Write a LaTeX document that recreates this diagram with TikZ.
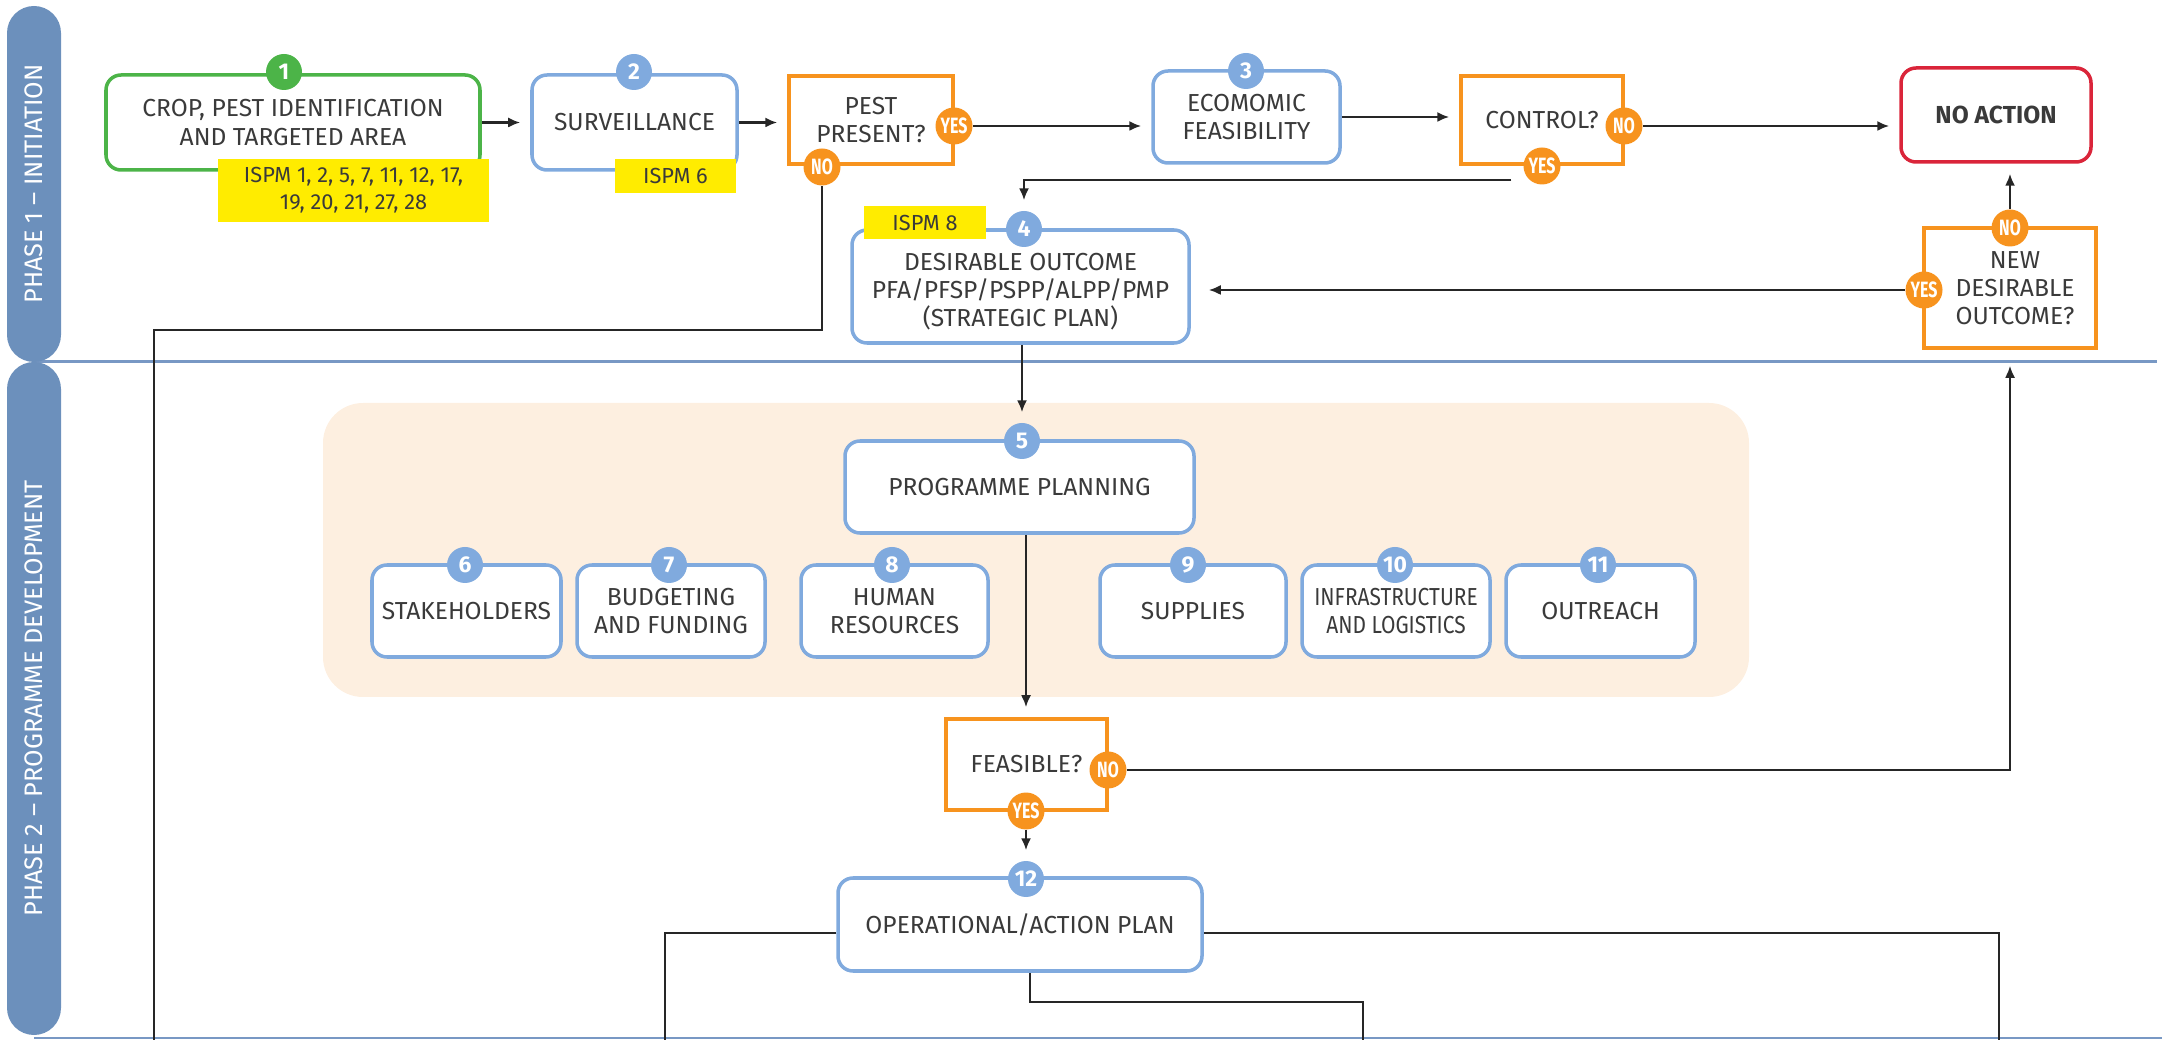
\documentclass[tikz,border=0pt]{standalone}
\usepackage{fontspec}
\setmainfont{Fira Sans}
\newfontfamily\ansfam{Fira Sans}[FakeStretch=0.72]
\newfontfamily\condfam{Fira Sans}[FakeStretch=0.85]
\usepackage{tikz}
\usetikzlibrary{arrows.meta}
\usetikzlibrary{positioning}
\usepackage{xcolor}
\definecolor{phaseblue}{RGB}{108,144,188}
\definecolor{lineblue}{RGB}{120,152,196}
\definecolor{boxblue}{RGB}{128,170,222}
\definecolor{stepgreen}{RGB}{76,180,72}
\definecolor{qorange}{RGB}{247,147,30}
\definecolor{stopred}{RGB}{218,37,58}
\definecolor{ispmyellow}{RGB}{255,236,0}
\definecolor{planbg}{RGB}{253,239,224}
\definecolor{textgray}{RGB}{58,58,58}
\newcommand{\boxtxt}{\fontsize{7}{8}\selectfont}
\newcommand{\ispmtxt}{\fontsize{6.2}{7.7}\selectfont}
\newcommand{\dottxt}{\fontsize{6.5}{6.5}\selectfont\bfseries}
\newcommand{\anstxt}{\ansfam\fontsize{6.3}{6.3}\selectfont\bfseries}
\newcommand{\phasetxt}{\fontsize{7.2}{7.2}\selectfont}
\tikzstyle{stepbox} = [draw=boxblue, line width=1pt, rounded corners=0.15cm, fill=white, text=textgray, font=\boxtxt, align=center, inner sep=0pt, minimum height=0.92cm]
\tikzstyle{firstbox} = [stepbox, draw=stepgreen]
\tikzstyle{stopbox} = [stepbox, draw=stopred]
\tikzstyle{askbox} = [stepbox, draw=qorange, sharp corners]
\tikzstyle{ispm} = [fill=ispmyellow, text=textgray, font=\ispmtxt, align=center, inner sep=0pt]
\tikzstyle{numdot} = [circle, fill=boxblue, text=white, font=\dottxt, minimum size=0.36cm, inner sep=0pt]
\tikzstyle{ansdot} = [circle, fill=qorange, text=white, font=\anstxt, minimum size=0.37cm, inner sep=0pt]
\tikzstyle{phasebar} = [fill=phaseblue, text=white, font=\phasetxt, rounded corners=0.27cm, minimum height=0.54cm, inner sep=0pt, rotate=90]
\tikzstyle{divider} = [draw=lineblue, line width=0.85pt]
\tikzstyle{flow} = [->, draw=black!85, line width=0.6pt, shorten >=0.1cm]
\tikzstyle{link} = [draw=black!85, line width=0.6pt]

\begin{document}
\begin{tikzpicture}[>={Latex[length=1.2mm,width=1mm]}]
            \useasboundingbox (0,0) rectangle (21.62,-10.40);

            % Background of the planning block
            \node[fill=planbg, rounded corners=0.4cm, minimum width=14.26cm, minimum height=2.94cm] (planarea) at (10.36,-5.50) {};

            % Phase separators
            \draw[divider] (0.34,-3.62) -- (21.57,-3.62);
            \draw[divider] (0.34,-10.38) -- (21.62,-10.38);

            % Phases
            \node[phasebar, minimum width=3.56cm] (phase1) at (0.34,-1.84) {PHASE 1 -- INITIATION};
            \node[phasebar, minimum width=6.73cm] (phase2) at (0.34,-6.985) {PHASE 2 -- PROGRAMME DEVELOPMENT};

            % Nodes
            \node[firstbox, minimum width=3.74cm, minimum height=0.95cm] (b1) at (2.93,-1.225) {CROP, PEST IDENTIFICATION\\AND TARGETED AREA};
            \node[stepbox, minimum width=2.05cm, minimum height=0.95cm] (b2) at (6.345,-1.225) {SURVEILLANCE};
            \node[askbox, minimum width=1.64cm, minimum height=0.88cm] (pest) at (8.71,-1.20) {PEST\\PRESENT?};
            \node[stepbox, minimum width=1.87cm] (b3) at (12.465,-1.17) {ECOMOMIC\\FEASIBILITY};
            \node[askbox, minimum width=1.62cm, minimum height=0.88cm] (ctrl) at (15.42,-1.20) {CONTROL?};
            \node[stopbox, minimum width=1.90cm, minimum height=0.94cm, font=\boxtxt\bfseries] (stop) at (19.96,-1.15) {NO ACTION};
            \node[askbox, minimum width=1.72cm, minimum height=1.20cm] (newq) at (20.10,-2.88) {\hspace*{0.1cm}NEW\\\hspace*{0.1cm}DESIRABLE\\\hspace*{0.1cm}OUTCOME?};
            \node[stepbox, minimum width=3.37cm, minimum height=1.13cm] (b4) at (10.205,-2.865) {\rule{0pt}{8pt}DESIRABLE OUTCOME\\PFA/PFSP/PSPP/ALPP/PMP\\(STRATEGIC PLAN)};
            \node[stepbox, minimum width=3.49cm] (b5) at (10.195,-4.87) {PROGRAMME PLANNING};
            \node[stepbox, minimum width=1.89cm] (b6) at (4.665,-6.11) {STAKEHOLDERS};
            \node[stepbox, minimum width=1.88cm] (b7) at (6.71,-6.11) {BUDGETING\\AND FUNDING};
            \node[stepbox, minimum width=1.87cm] (b8) at (8.945,-6.11) {HUMAN\\RESOURCES};
            \node[stepbox, minimum width=1.86cm] (b9) at (11.93,-6.11) {SUPPLIES};
            \node[stepbox, minimum width=1.88cm, font=\condfam\boxtxt] (b10) at (13.96,-6.11) {INFRASTRUCTURE\\AND LOGISTICS};
            \node[stepbox, minimum width=1.89cm] (b11) at (16.005,-6.11) {OUTREACH};
            \node[askbox, minimum width=1.61cm, minimum height=0.91cm] (feas) at (10.265,-7.645) {FEASIBLE?};
            \node[stepbox, minimum width=3.64cm, minimum height=0.93cm] (b12) at (10.20,-9.245) {OPERATIONAL/ACTION PLAN};

            % ISPM references
            \node[ispm, minimum width=2.71cm, minimum height=0.63cm] (ispm1) at (3.535,-1.905) {ISPM 1, 2, 5, 7, 11, 12, 17,\\19, 20, 21, 27, 28};
            \node[ispm, minimum width=1.21cm, minimum height=0.34cm] (ispm6) at (6.755,-1.76) {ISPM 6};
            \node[ispm, minimum width=1.22cm, minimum height=0.33cm] (ispm8) at (9.25,-2.225) {ISPM 8};

            % Step numbers
            \node[numdot, fill=stepgreen] (d1) at (2.84,-0.72) {1};
            \node[numdot] (d2) at (6.34,-0.72) {2};
            \node[numdot] (d3) at (12.46,-0.71) {3};
            \node[numdot] (d4) at (10.24,-2.29) {4};
            \node[numdot] (d5) at (10.22,-4.41) {5};
            \node[numdot] (d6) at (4.65,-5.65) {6};
            \node[numdot] (d7) at (6.69,-5.65) {7};
            \node[numdot] (d8) at (8.92,-5.65) {8};
            \node[numdot] (d9) at (11.88,-5.65) {9};
            \node[numdot] (d10) at (13.95,-5.65) {10};
            \node[numdot] (d11) at (15.98,-5.65) {11};
            \node[numdot] (d12) at (10.26,-8.79) {12};

            % Answers
            \node[ansdot] (pestyes) at (9.54,-1.26) {YES};
            \node[ansdot] (pestno) at (8.22,-1.67) {NO};
            \node[ansdot] (ctrlno) at (16.24,-1.26) {NO};
            \node[ansdot] (ctrlyes) at (15.42,-1.66) {YES};
            \node[ansdot] (newno) at (20.10,-2.28) {NO};
            \node[ansdot] (newyes) at (19.24,-2.90) {YES};
            \node[ansdot] (feasno) at (11.08,-7.70) {NO};
            \node[ansdot] (feasyes) at (10.26,-8.11) {YES};

            % Loose ends towards the next phase
            \coordinate (nobend) at (1.54,-3.30);
            \coordinate (noend) at (1.54,-10.40);
            \coordinate (opleft) at (6.65,-10.40);
            \coordinate (opmid) at (13.63,-10.40);
            \coordinate (opright) at (19.99,-10.40);

            % Connecting lines
            \draw[flow] (b1.east) -- (b1.east -| b2.west);
            \draw[flow] (b2.east) -- (b2.east -| pest.west);
            \draw[flow] (pestyes.east) -- (pestyes.east -| b3.west);
            \draw[flow] (b3.east) -- (b3.east -| ctrl.west);
            \draw[flow] (ctrlno.east) -- (ctrlno.east -| stop.west);
            \draw[flow, shorten <=0.17cm] (ctrlyes.-135) -| (d4.north);
            \draw[link] (pestno.south) |- (nobend) -- (noend);
            \draw[flow, shorten >=0.18cm] (newyes.west) -- (newyes.west -| b4.east);
            \draw[flow] (newno.north) -- (newno.north |- stop.south);
            \draw[flow] (d5.north |- b4.south) -- (d5.north);
            \draw[flow] (feasyes |- b5.south) -- (feasyes |- feas.north);
            \draw[flow] (feasyes.south) -- (d12.north);
            \draw[flow, shorten >=0.16cm] (feasno.east) -| (newq.south);
            \draw[link] ([yshift=-0.085cm]b12.west) -| (opleft);
            \draw[link] ([yshift=-0.085cm]b12.east) -| (opright);
            \draw[link] ([xshift=0.1cm]b12.south) -- ++(0,-0.29) -| (opmid);
\end{tikzpicture}
\end{document}
